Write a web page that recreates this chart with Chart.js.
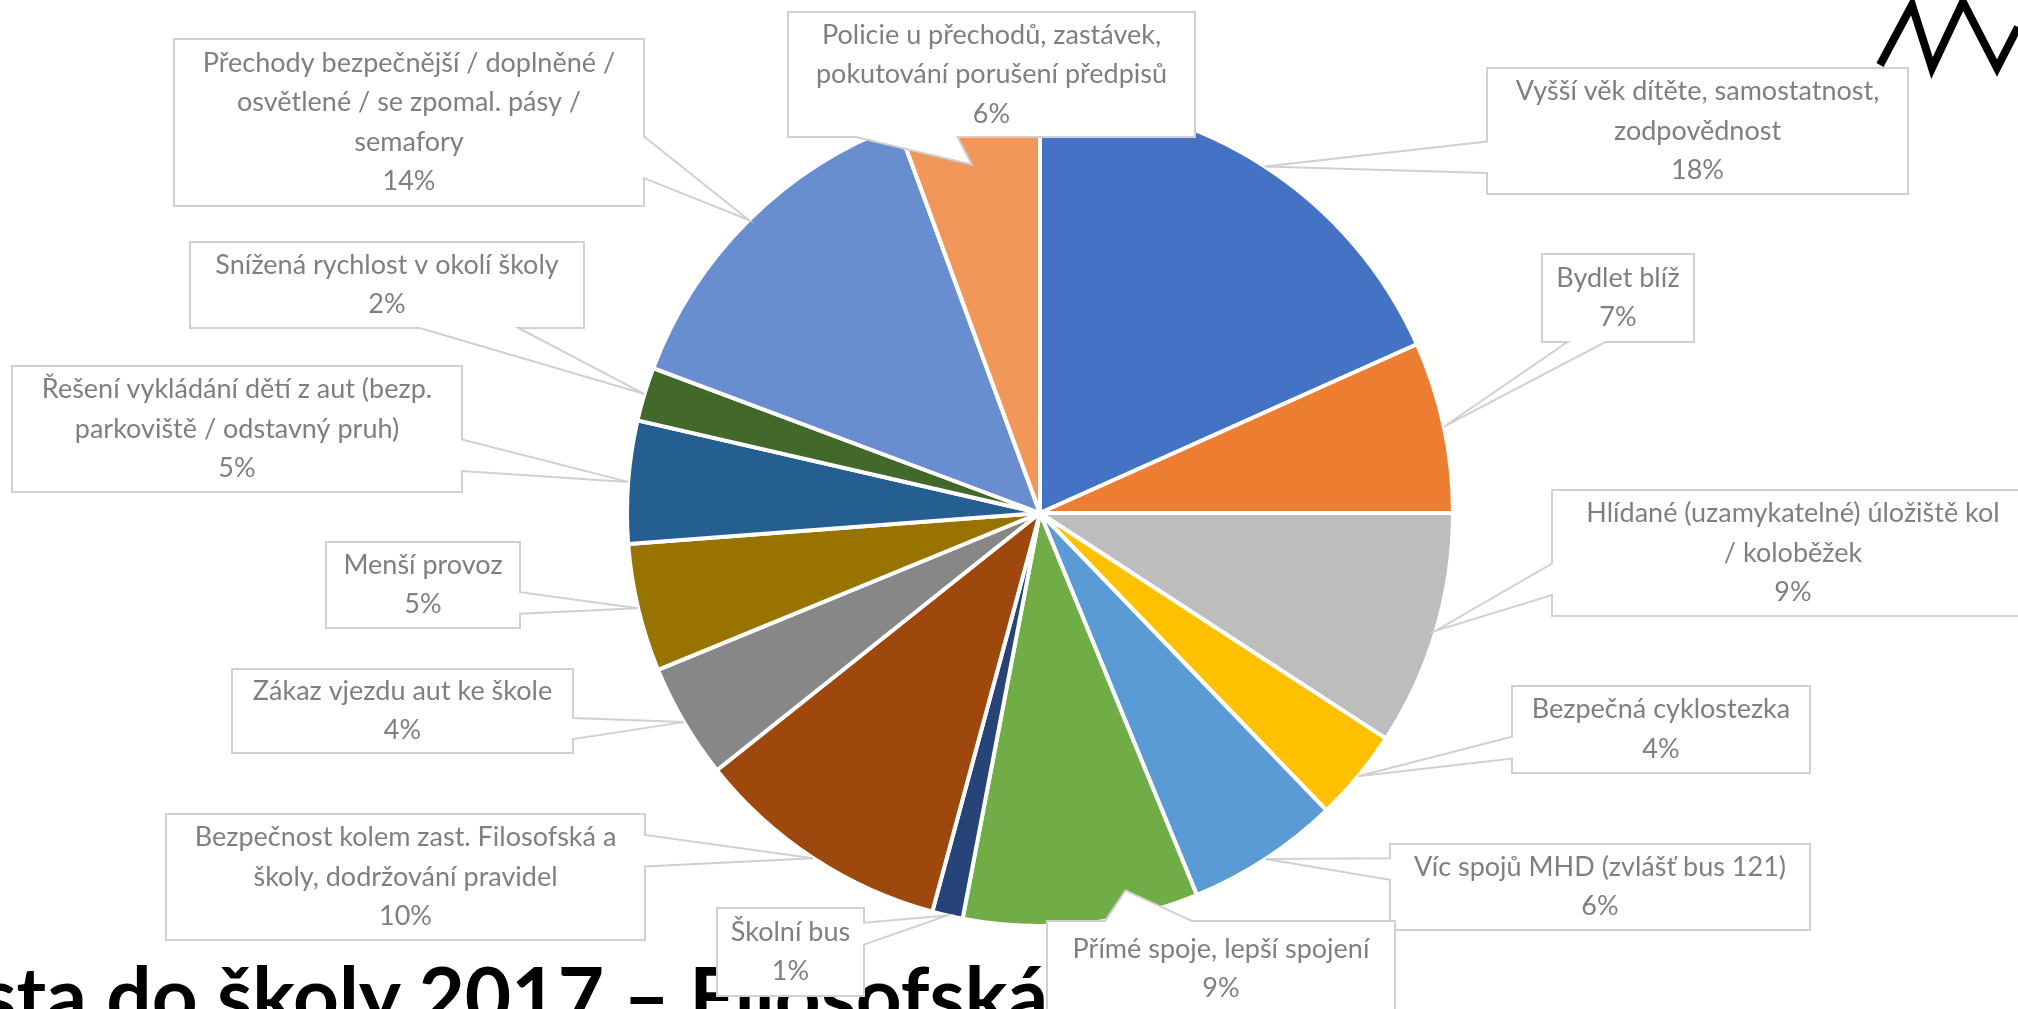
<!DOCTYPE html>
<html lang="cs">
<head>
    <meta charset="UTF-8">
    <title>Cesta do školy 2017 – Filosofská</title>
    <script src="https://cdn.jsdelivr.net/npm/chart.js"></script>
    <style>
        html, body {
            margin: 0;
            padding: 0;
            background: #fff;
            overflow: hidden;
        }
        #wrap {
            position: relative;
            width: 2018px;
            height: 1009px;
            overflow: hidden;
        }
        #title {
            position: absolute;
            right: 970px;
            top: 946px;
            font: bold 80px Lato, sans-serif;
            line-height: 1.2;
            color: #000;
            white-space: nowrap;
        }
        #pie {
            position: absolute;
            left: 0;
            top: 0;
        }
        #logo {
            position: absolute;
            left: 1860px;
            top: 0;
        }
    </style>
</head>
<body>
<div id="wrap">
    <div id="title">Bezpečná cesta do školy 2017 – Filosofská</div>
    <canvas id="pie" width="2018" height="1009"></canvas>
    <svg id="logo" width="158" height="80">
        <polyline points="20,65 52,5 72,68 103,2 137,68 158,27" fill="none" stroke="#000" stroke-width="8" stroke-linejoin="miter"/>
    </svg>
</div>

<script>
    // categories (line breaks as in the original labels)
    const categories = [
        'Vyšší věk dítěte, samostatnost,\nzodpovědnost',
        'Bydlet blíž',
        'Hlídané (uzamykatelné) úložiště kol\n/ koloběžek',
        'Bezpečná cyklostezka',
        'Víc spojů MHD (zvlášť bus 121)',
        'Přímé spoje, lepší spojení',
        'Školní bus',
        'Bezpečnost kolem zast. Filosofská a\nškoly, dodržování pravidel',
        'Zákaz vjezdu aut ke škole',
        'Menší provoz',
        'Řešení vykládání dětí z aut (bezp.\nparkoviště / odstavný pruh)',
        'Snížená rychlost v okolí školy',
        'Přechody bezpečnější / doplněné /\nosvětlené / se zpomal. pásy /\nsemafory',
        'Policie u přechodů, zastávek,\npokutování porušení předpisů'
    ];

    // share of answers (%)
    const shares = [18.3, 6.7, 9.2, 3.6, 6.0, 9.2, 1.2, 10.1, 4.5, 5.0, 4.8, 2.1, 13.7, 5.6];

    // percentages as printed in the labels
    const pctLabels = ['18%', '7%', '9%', '4%', '6%', '9%', '1%', '10%', '4%', '5%', '5%', '2%', '14%', '6%'];

    const sliceColors = [
        '#4472C4', '#ED7D31', '#BDBDBD', '#FFC000', '#5B9BD5', '#70AD47', '#264478',
        '#9E480E', '#878787', '#997300', '#255E91', '#43682B', '#698ED0', '#F1975A'
    ];

    // callout boxes: x, y, width, height (px)
    const labelBoxes = [
        [1487, 68, 421, 126],
        [1542, 254, 152, 88],
        [1552, 490, 482, 126],
        [1512, 686, 298, 87],
        [1390, 844, 420, 86],
        [1047, 921, 348, 96],
        [717, 908, 147, 88],
        [166, 814, 479, 126],
        [232, 669, 341, 84],
        [326, 542, 194, 86],
        [12, 366, 450, 126],
        [190, 242, 394, 86],
        [174, 39, 470, 167],
        [788, 12, 407, 125]
    ];

    // where a box covers the pie, the pointer goes further in
    const tipAdjust = {
        5: { r: 0.937, da: -7 },
        13: { r: 0.86, da: -1 }
    };

    function calloutPath(ctx, bx, by, bw, bh, tx, ty) {
        const cx = bx + bw / 2;
        const cy = by + bh / 2;
        const nx = (tx - cx) / (bw / 2);
        const ny = (ty - cy) / (bh / 2);
        let side;
        if (Math.abs(nx) > Math.abs(ny)) side = nx < 0 ? 'left' : 'right';
        else side = ny < 0 ? 'top' : 'bottom';
        const horiz = side === 'top' || side === 'bottom';
        const f = (horiz ? tx < cx : ty < cy) ? [1 / 6, 5 / 12] : [7 / 12, 5 / 6];

        ctx.beginPath();
        ctx.moveTo(bx, by);
        if (side === 'top') {
            ctx.lineTo(bx + bw * f[0], by);
            ctx.lineTo(tx, ty);
            ctx.lineTo(bx + bw * f[1], by);
        }
        ctx.lineTo(bx + bw, by);
        if (side === 'right') {
            ctx.lineTo(bx + bw, by + bh * f[0]);
            ctx.lineTo(tx, ty);
            ctx.lineTo(bx + bw, by + bh * f[1]);
        }
        ctx.lineTo(bx + bw, by + bh);
        if (side === 'bottom') {
            ctx.lineTo(bx + bw * f[1], by + bh);
            ctx.lineTo(tx, ty);
            ctx.lineTo(bx + bw * f[0], by + bh);
        }
        ctx.lineTo(bx, by + bh);
        if (side === 'left') {
            ctx.lineTo(bx, by + bh * f[1]);
            ctx.lineTo(tx, ty);
            ctx.lineTo(bx, by + bh * f[0]);
        }
        ctx.closePath();
    }

    const calloutPlugin = {
        id: 'callouts',
        afterDatasetsDraw(chart) {
            const ctx = chart.ctx;
            const arcs = chart.getDatasetMeta(0).data;
            ctx.save();
            arcs.forEach((arc, i) => {
                const [bx, by, bw, bh] = labelBoxes[i];
                const adj = tipAdjust[i] || { r: 1, da: 0 };
                const mid = (arc.startAngle + arc.endAngle) / 2 + adj.da * Math.PI / 180;
                const r = arc.outerRadius * adj.r;
                const tx = arc.x + Math.cos(mid) * r;
                const ty = arc.y + Math.sin(mid) * r;

                calloutPath(ctx, bx, by, bw, bh, tx, ty);
                ctx.fillStyle = '#fff';
                ctx.fill();
                ctx.lineWidth = 2;
                ctx.strokeStyle = '#D0D0D0';
                ctx.stroke();

                const lines = chart.data.labels[i].split('\n').concat(pctLabels[i]);
                const lineH = 39.5;
                const cx = bx + bw / 2;
                let y = by + bh / 2 - (lines.length - 1) * lineH / 2;
                ctx.fillStyle = '#7F7F7F';
                ctx.font = '27px Lato';
                ctx.textAlign = 'center';
                ctx.textBaseline = 'middle';
                lines.forEach(line => {
                    ctx.fillText(line, cx, y, bw - 12);
                    y += lineH;
                });
            });
            ctx.restore();
        }
    };

    new Chart(document.getElementById('pie'), {
        type: 'pie',
        data: {
            labels: categories,
            datasets: [{
                data: shares,
                backgroundColor: sliceColors,
                borderColor: '#fff',
                borderWidth: 4
            }]
        },
        options: {
            responsive: false,
            devicePixelRatio: 1,
            animation: false,
            layout: {
                padding: { left: 625, top: 98, right: 563, bottom: 81 }
            },
            plugins: {
                legend: { display: false },
                tooltip: { enabled: false }
            }
        },
        plugins: [calloutPlugin]
    });
</script>
</body>
</html>
